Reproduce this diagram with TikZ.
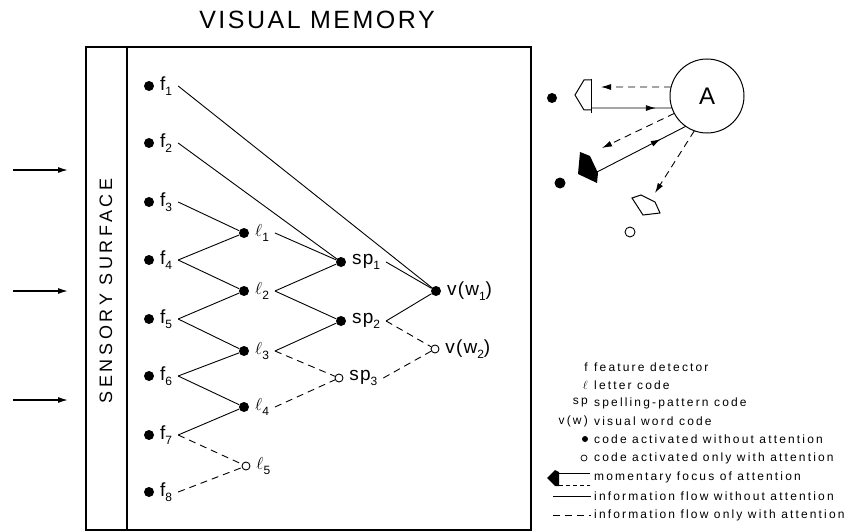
\documentclass[tikz,border=0pt]{standalone}
\usepackage{fontspec}
\setmainfont{Liberation Sans}
\newfontfamily\labfont[LetterSpace=6]{Liberation Sans}
\newfontfamily\keyfont[LetterSpace=18]{Liberation Sans}
\newfontfamily\headfont[LetterSpace=10]{Liberation Sans}
\newfontfamily\sidefont[LetterSpace=20]{Liberation Sans}
\usetikzlibrary{arrows.meta}
\usetikzlibrary{calc}
\usetikzlibrary{decorations.markings}
\newcommand{\lo}[1]{\raisebox{-0.55ex}{\fontsize{12}{12}\selectfont #1}}

\begin{document}
\begin{tikzpicture}[x=1pt, y=-1pt,
  arr/.style={>={Latex[length=10pt, width=6pt]}},
  dot/.style={circle, fill, inner sep=0pt, minimum size=10pt},
  odot/.style={circle, draw, line width=.9pt, fill=white, inner sep=0pt, minimum size=8pt},
  lab/.style={anchor=west, inner sep=3pt, outer sep=3pt, font=\labfont\fontsize{19}{22}\selectfont},
  flow/.style={line width=.9pt},
  attflow/.style={line width=.9pt, dash pattern=on 7pt off 5pt},
  key/.style={anchor=west, inner sep=0pt, font=\keyfont\fontsize{12}{14}\selectfont},
  keysym/.style={anchor=east, inner sep=0pt, font=\keyfont\fontsize{12}{14}\selectfont},
  midarr/.style={postaction={decorate}, decoration={markings,
    mark=at position #1 with {\arrow{Latex[length=10pt, width=6pt]}}}}]
\useasboundingbox (0,0) rectangle (867,532);

\node[font=\headfont\fontsize{25}{30}\selectfont] (title) at (317,20) {VISUAL MEMORY};
\draw[line width=1.1pt] (86,47) rectangle (531,530);
\draw[line width=1.1pt] (127,47) -- (127,530);
\node[rotate=90, font=\sidefont\fontsize{18}{20}\selectfont] (surf) at (106,291) {SENSORY SURFACE};

% input to the sensory surface
\foreach \i/\y in {1/170, 2/291, 3/400} {
  \coordinate (in\i) at (13,\y);
  \coordinate (to\i) at (68,\y);
  \draw[->, arr, line width=1.4pt] (in\i) -- (to\i);
}

\foreach \i/\y in {1/86, 2/143, 3/202, 4/260, 5/319, 6/376, 7/435, 8/492} {
  \node[dot] (f\i) at (149,\y) {};
  \node[lab] (lf\i) at (f\i.east) {f\lo{\i}};
}
\foreach \i/\y in {1/233, 2/291, 3/351, 4/407} {
  \node[dot] (l\i) at (244,\y) {};
  \node[lab] (ll\i) at (l\i.east) {$\ell$\lo{\i}};
}
\node[odot] (l5) at (246,466) {};
\node[lab] (ll5) at (l5.east) {$\ell$\lo{5}};

\node[dot] (sp1) at (341,262) {};
\node[lab] (lsp1) at (sp1.east) {sp\lo{1}};
\node[dot] (sp2) at (341,321) {};
\node[lab] (lsp2) at (sp2.east) {sp\lo{2}};
\node[odot] (sp3) at (339,378) {};
\node[lab] (lsp3) at (sp3.east) {sp\lo{3}};

\node[dot] (vw1) at (436,291) {};
\node[lab] (lvw1) at (vw1.east) {v(w\lo{1})};
\node[odot] (vw2) at (435,349) {};
\node[lab] (lvw2) at (vw2.east) {v(w\lo{2})};

\draw[flow] (lf1.east) -- (vw1);
\draw[flow] (lf2.east) -- (sp1);
\draw[flow] (lf3.east) -- (l1);
\draw[flow] (lf4.east) -- (l1);
\draw[flow] (lf4.east) -- (l2);
\draw[flow] (lf5.east) -- (l2);
\draw[flow] (lf5.east) -- (l3);
\draw[flow] (lf6.east) -- (l3);
\draw[flow] (lf6.east) -- (l4);
\draw[flow] (lf7.east) -- (l4);
\draw[attflow] (lf7.east) -- (l5);
\draw[attflow] (lf8.east) -- (l5);
\draw[flow] (ll1.east) -- (sp1);
\draw[flow] (ll2.east) -- (sp1);
\draw[flow] (ll2.east) -- (sp2);
\draw[flow] (ll3.east) -- (sp2);
\draw[attflow] (ll3.east) -- (sp3);
\draw[attflow] (ll4.east) -- (sp3);
\draw[flow] (lsp1.east) -- (vw1);
\draw[flow] (lsp2.east) -- (vw1);
\draw[attflow] (lsp2.east) -- (vw2);
\draw[attflow] (lsp3.east) -- (vw2);

% attention
\node[circle, draw, line width=1pt, inner sep=0pt, outer sep=0pt, minimum size=74pt,
  font=\fontsize{24}{28}\selectfont] (A) at (707,96) {A};
\node[dot] (c1) at (552,98) {};
\node[dot, minimum size=11pt] (c2) at (560,183) {};
\node[odot, minimum size=10pt] (c3) at (630,232) {};

\draw[line width=1pt] (591,79) -- (591,113);
\draw[line width=1pt] (591,80) -- (584,80) -- (575,95) -- (584,110) -- (591,110);
\fill (580,152) -- (590,156) -- (598,173) -- (597,183) -- (578,174) -- cycle;
\draw[line width=1pt] (632,198) -- (641,195) -- (655,202) -- (660,213) -- (643,215) -- cycle;

\coordinate (p1d) at (601,87);
\coordinate (p1s) at (591,108);
\coordinate (p2s) at (597,172);
\coordinate (p2d) at (602,148);
\coordinate (p3d) at (655,193);
\draw[attflow, ->, arr] (A.166) -- (p1d);
\draw[flow, midarr=0.8] (p1s) -- (A.199);
\draw[attflow, ->, arr] (A.208) -- (p2d);
\draw[flow, midarr=0.72] (p2s) -- (A.235);
\draw[attflow, ->, arr] (A.250) -- (p3d);

% key
\node[keysym] (kf) at (588,367) {f};
\node[key] (tf) at (594,367) {feature detector};
\node[keysym] (kl) at (588,385) {$\ell$};
\node[key] (tl) at (594,385) {letter code};
\node[keysym] (ksp) at (588,403) {sp};
\node[key] (tsp) at (594,403) {spelling-pattern code};
\node[keysym] (kvw) at (588,421) {v(w)};
\node[key] (tvw) at (594,421) {visual word code};
\node[dot, minimum size=6pt] (kon) at (585,439) {};
\node[key] (ton) at (594,439) {code activated without attention};
\node[odot, minimum size=6pt, line width=.7pt] (koff) at (584,458) {};
\node[key] (toff) at (594,458) {code activated only with attention};
\fill (547,478) -- (555,470) -- (559,472) -- (559,486) -- (555,486) -- cycle;
\coordinate (ka1) at (559,473);
\coordinate (ka2) at (590,473);
\coordinate (kb1) at (559,485);
\coordinate (kb2) at (590,485);
\draw[line width=.7pt] (ka1) -- (ka2);
\draw[line width=.7pt, dash pattern=on 4pt off 3pt] (kb1) -- (kb2);
\node[key] (tfoc) at (594,477) {momentary focus of attention};
\coordinate (ks1) at (553,496);
\coordinate (ks2) at (591,496);
\draw[flow] (ks1) -- (ks2);
\node[key] (tso) at (594,496) {information flow without attention};
\coordinate (kd1) at (553,515);
\coordinate (kd2) at (591,515);
\draw[attflow] (kd1) -- (kd2);
\node[key] (tdo) at (594,515) {information flow only with attention};

\end{tikzpicture}
\end{document}
